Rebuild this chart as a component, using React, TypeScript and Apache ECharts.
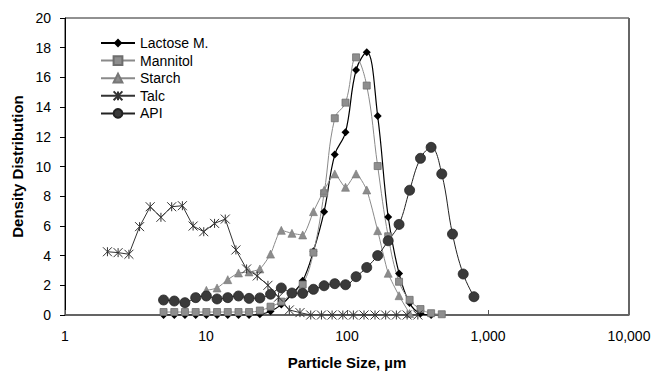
import React, { useEffect, useRef } from "react";
import * as echarts from "echarts";

// Size classes (µm) shared by Lactose M., Mannitol, Starch and API
const sizeClasses = [
  5, 5.96, 7.09, 8.45, 10.06, 11.98, 14.27, 17.0, 20.2, 24.1, 28.7, 34.2, 40.7, 48.5, 57.8,
  68.8, 81.9, 97.6, 116, 138, 165, 196, 234, 278, 332, 395, 470, 560, 667, 795,
];
// Size classes (µm) of the talc measurement
const talcSizes = [
  2.0, 2.38, 2.84, 3.38, 4.02, 4.79, 5.71, 6.8, 8.1, 9.64, 11.5, 13.7, 16.3, 19.4, 23.1,
  27.5, 32.7, 39.0, 46.4, 55.3, 65.9, 78.4, 93.4, 111, 132, 158, 188, 224, 267, 318,
];

const lactoseM = [
  0, 0, 0, 0, 0, 0, 0, 0, 0, 0.05, 0.25, 0.7, 1.4, 2.3, 4.3,
  6.96, 10.8, 12.3, 16.5, 17.7, 13.4, 6.6, 2.8, 0.8, 0.1, 0, null, null, null, null,
];
const mannitol = [
  0.2, 0.2, 0.2, 0.2, 0.2, 0.2, 0.2, 0.2, 0.2, 0.3, 0.56, 0.9, 1.45, 2.05, 4.2,
  8.2, 13.25, 14.3, 17.35, 15.45, 10.03, 5.3, 2.24, 1.02, 0.4, 0.12, 0.05, null, null, null,
];
const starch = [
  null, null, null, null, 1.66, 1.82, 2.38, 2.83, 2.9, 3.1, 4.1, 5.7, 5.5, 5.39, 6.96,
  8.4, 9.5, 8.6, 9.5, 8.42, 5.68, 2.81, 1.3, 0.1, null, null, null, null, null, null,
];
const talc = [
  4.26, 4.2, 4.09, 5.95, 7.29, 6.58, 7.29, 7.36, 5.99, 5.61, 6.17, 6.46, 4.38, 3.1, 2.63,
  2.0, 1.2, 0.34, 0.16, 0, 0, 0, 0, 0, 0, 0, 0, 0, 0, 0,
];
const api = [
  1.01, 0.94, 0.83, 1.17, 1.28, 1.08, 1.17, 1.28, 1.12, 1.15, 1.4, 1.82, 1.48, 1.46, 1.73,
  1.97, 2.11, 2.04, 2.58, 3.2, 4.0, 5.0, 6.1, 8.4, 10.55, 11.29, 9.5, 5.45, 2.76, 1.23,
];

const legendNames = ["Lactose M.", "Mannitol", "Starch", "Talc", "API"];
const yTicks = { min: 0, max: 20, step: 2 };
const xRange = { min: 1, max: 10000 };

const FONT = "'Liberation Sans', Arial, Helvetica, sans-serif";
const ASTERISK = "path://M0,0L10,10M10,0L0,10M5,0L5,10";

function pairs(xs: number[], ys: (number | null)[]) {
  const out: [number, number][] = [];
  xs.forEach((x, i) => {
    const y = ys[i];
    if (y !== null && y !== undefined) out.push([x, y]);
  });
  return out;
}

export default function App() {
  const ref = useRef<HTMLDivElement>(null);

  useEffect(() => {
    if (!ref.current) return;
    const chart = echarts.init(ref.current, null, { renderer: "svg" });
    chart.setOption({
      animation: false,
      backgroundColor: "#ffffff",
      textStyle: { fontFamily: FONT },
      grid: {
        left: 65,
        top: 18,
        right: 26,
        bottom: 62,
        show: true,
        borderColor: "#222",
        borderWidth: 1,
      },
      graphic: [
        {
          // darker right edge of the plot frame
          type: "line",
          shape: { x1: 629, y1: 18, x2: 629, y2: 315 },
          style: { stroke: "#666", lineWidth: 2 },
          z: 10,
        },
      ],
      legend: {
        data: legendNames,
        orient: "vertical",
        left: 100,
        top: 36,
        padding: 0,
        itemWidth: 34,
        itemHeight: 11,
        itemGap: 3.6,
        textStyle: { fontFamily: FONT, fontSize: 14, color: "#000" },
      },
      xAxis: {
        type: "log",
        logBase: 10,
        min: xRange.min,
        max: xRange.max,
        name: "Particle Size, µm",
        nameLocation: "middle",
        nameGap: 40,
        nameTextStyle: { fontFamily: FONT, fontSize: 15, fontWeight: "bold", color: "#000" },
        axisLine: { lineStyle: { color: "#555", width: 1.5 } },
        axisTick: { inside: true, length: 5, lineStyle: { color: "#555" } },
        minorTick: { show: false },
        splitLine: { show: false },
        axisLabel: {
          margin: 14,
          fontFamily: FONT,
          fontSize: 14,
          color: "#000",
          formatter: (v: number) => Math.round(v).toLocaleString("en-US"),
        },
      },
      yAxis: {
        type: "value",
        min: yTicks.min,
        max: yTicks.max,
        interval: yTicks.step,
        name: "Density Distribution",
        nameLocation: "middle",
        nameGap: 38,
        nameTextStyle: { fontFamily: FONT, fontSize: 15, fontWeight: "bold", color: "#000" },
        axisLine: { show: true, lineStyle: { color: "#000", width: 1 } },
        axisTick: { show: true, inside: false, length: 5, lineStyle: { color: "#000" } },
        splitLine: { show: false },
        axisLabel: { margin: 14, fontFamily: FONT, fontSize: 14, color: "#000" },
      },
      series: [
        {
          name: "Lactose M.",
          type: "line",
          smooth: 0.4,
          data: pairs(sizeClasses, lactoseM),
          symbol: "diamond",
          symbolSize: 8,
          lineStyle: { color: "#000", width: 1.2 },
          itemStyle: { color: "#000" },
        },
        {
          name: "Mannitol",
          type: "line",
          smooth: 0.4,
          data: pairs(sizeClasses, mannitol),
          symbol: "rect",
          symbolSize: 7,
          lineStyle: { color: "#8a8a8a", width: 1 },
          itemStyle: { color: "#8e8e8e", borderColor: "#6e6e6e", borderWidth: 0.8 },
        },
        {
          name: "Starch",
          type: "line",
          smooth: 0.2,
          data: pairs(sizeClasses, starch),
          symbol: "triangle",
          symbolSize: 8,
          lineStyle: { color: "#8a8a8a", width: 1 },
          itemStyle: { color: "#8c8c8c", borderColor: "#777", borderWidth: 0.6 },
        },
        {
          name: "Talc",
          type: "line",
          smooth: false,
          data: pairs(talcSizes, talc),
          symbol: ASTERISK,
          symbolSize: 9,
          lineStyle: { color: "#333", width: 1 },
          itemStyle: { color: "#333", borderColor: "#333", borderWidth: 1 },
        },
        {
          name: "API",
          type: "line",
          smooth: 0.4,
          data: pairs(sizeClasses, api),
          symbol: "circle",
          symbolSize: 10,
          lineStyle: { color: "#222", width: 1 },
          itemStyle: { color: "#3a3a3a", borderColor: "#222", borderWidth: 0.8 },
        },
      ],
    });
    return () => chart.dispose();
  }, []);

  return (
    <div
      ref={ref}
      style={{ position: "absolute", left: 0, top: 0, width: 655, height: 377, background: "#fff" }}
    />
  );
}
